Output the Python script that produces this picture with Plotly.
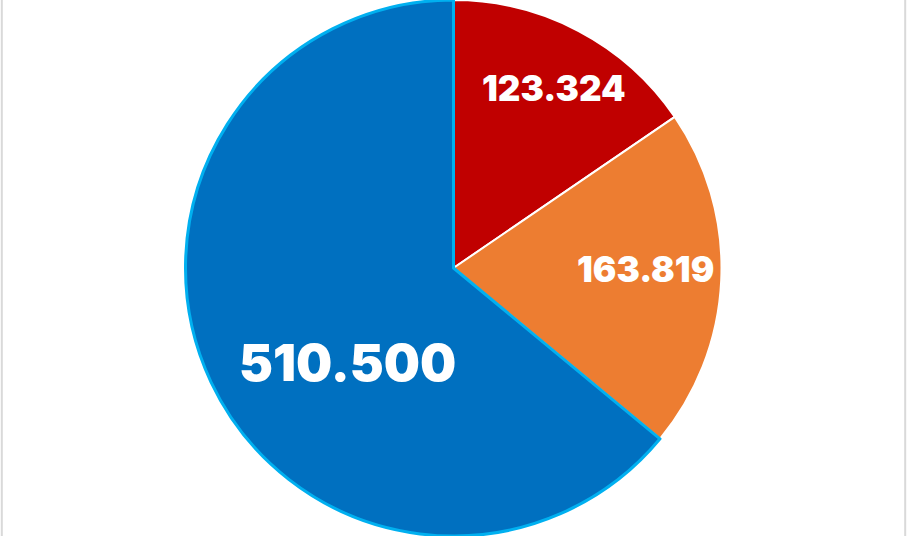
import math
import plotly.graph_objects as go

labels = ["A", "B", "C"]
values = [123.324, 163.819, 510.500]
colors = ["#C00000", "#ED7D31", "#0070C0"]
line_colors = ["#FFFFFF", "#FFFFFF", "#00B0F0"]
line_widths = [2, 2, 3]
font_sizes = [35, 35, 51]
# label placement (style): radial fraction of radius, angular shift in degrees
label_radius = [0.757, 0.716, 0.545]
label_shift = [2.0, -1.0, -18.0]

W, H = 907, 536
R = min(W, H) / 2.0

fig = go.Figure(go.Pie(
    labels=labels,
    values=values,
    sort=False,
    direction="clockwise",
    rotation=0,
    marker=dict(colors=colors, line=dict(color=line_colors, width=line_widths)),
    textinfo="none",
    hoverinfo="skip",
    showlegend=False,
    domain=dict(x=[0, 1], y=[0, 1]),
))

total = sum(values)
annotations = []
cum = 0.0
for v, fr, sh, fs in zip(values, label_radius, label_shift, font_sizes):
    mid = (cum + v / 2.0) / total * 360.0 + sh
    cum += v
    a = math.radians(mid)
    dx = fr * R * math.sin(a)
    dy = fr * R * math.cos(a)
    annotations.append(dict(
        xref="paper", yref="paper",
        x=0.5 + dx / W, y=0.5 + dy / H,
        xanchor="center", yanchor="middle",
        yshift=round(fs * 0.1),
        text=f"{v:.3f}", showarrow=False,
        font=dict(family="Inter", size=fs, color="white", weight=900),
    ))

fig.update_layout(
    width=W, height=H,
    margin=dict(l=0, r=0, t=0, b=0),
    paper_bgcolor="white",
    plot_bgcolor="white",
    annotations=annotations,
    shapes=[
        dict(type="line", xref="paper", yref="paper", x0=0.002, x1=0.002, y0=0, y1=1,
             line=dict(color="#D9D9D9", width=2)),
        dict(type="line", xref="paper", yref="paper", x0=0.998, x1=0.998, y0=0, y1=1,
             line=dict(color="#D9D9D9", width=2)),
    ],
)

fig.write_html(
    "out.html",
    config={"displayModeBar": False},
    post_script="document.body.style.margin='0';document.body.style.overflow='hidden';",
)
